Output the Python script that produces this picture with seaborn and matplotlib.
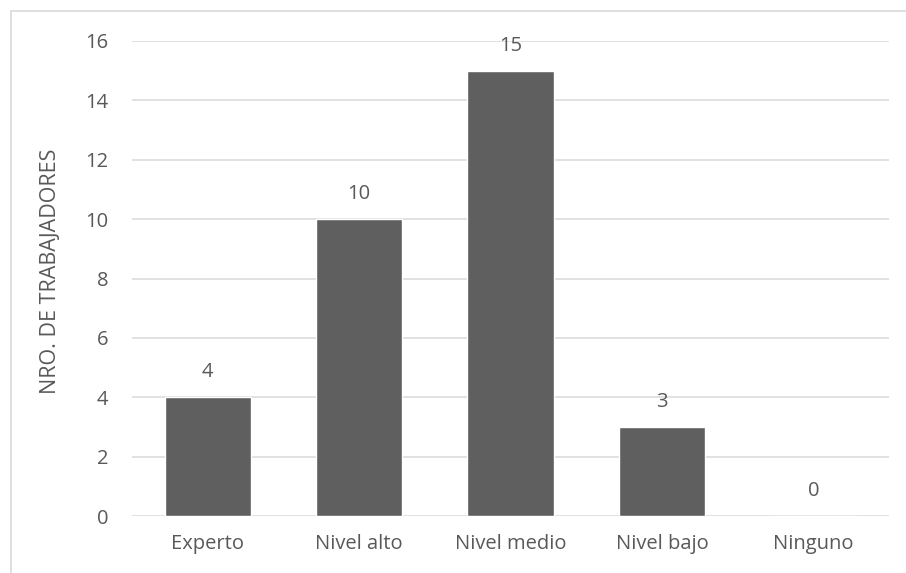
import matplotlib
matplotlib.use("Agg")
import matplotlib.pyplot as plt
import seaborn as sns
import pandas as pd
from matplotlib.patches import Rectangle

categories = ["Experto", "Nivel alto", "Nivel medio", "Nivel bajo", "Ninguno"]
values = [4, 10, 15, 3, 0]
y_ticks = [0, 2, 4, 6, 8, 10, 12, 14, 16]
y_label = "NRO. DE TRABAJADORES"

text_color = "#595959"
bar_color = "#5f5f5f"
grid_color = "#d9d9d9"
font = ["Open Sans", "DejaVu Sans"]
fs = 14.5

sns.set_theme(style="white")
plt.rcParams["font.family"] = font

df = pd.DataFrame({"cat": categories, "val": values})

fig = plt.figure(figsize=(9.06, 5.73), dpi=100)
ax = fig.add_axes([132 / 906, 1 - 516 / 573, (889 - 132) / 906, (516 - 41) / 573])

sns.barplot(data=df, x="cat", y="val", color=bar_color, saturation=1,
            width=0.57, ax=ax, zorder=3)

ax.set_ylim(0, 16)
ax.set_yticks(y_ticks)
ax.set_yticklabels([str(t) for t in y_ticks])
ax.set_xlim(-0.5, len(categories) - 0.5)
for t in y_ticks:
    ax.axhline(t, color=grid_color, lw=1.1, zorder=1)

for s in ax.spines.values():
    s.set_visible(False)
ax.tick_params(axis="both", length=0, labelsize=fs, colors=text_color)
ax.tick_params(axis="x", pad=13)
ax.tick_params(axis="y", pad=17)
ax.set_xlabel("")
ax.set_ylabel(y_label, fontsize=15.5, color=text_color)
ax.yaxis.set_label_coords(-(132 - 61) / 757, 0.515)

for i, v in enumerate(values):
    ax.annotate(str(v), (i, v), xytext=(0, 18), textcoords="offset points",
                ha="center", va="center", fontsize=fs, color=text_color)

# outer chart frame
fig.patches.append(Rectangle((11 / 906, -0.05), 1.1, 1 - 11 / 573 + 0.05,
                             transform=fig.transFigure, fill=False,
                             edgecolor="#d9d9d9", lw=1.2))

fig.savefig("out.png", dpi=100)
